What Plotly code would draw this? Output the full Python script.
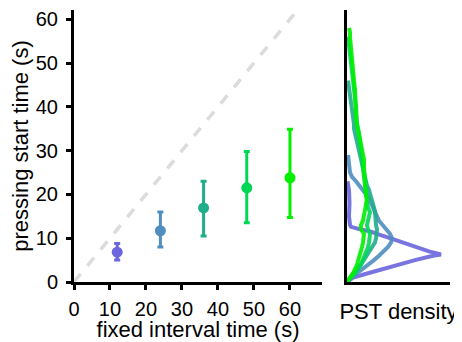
import plotly.graph_objects as go

# ---- data ----
intervals = [12, 24, 36, 48, 60]
pst_mean = [6.8, 11.7, 16.9, 21.5, 23.8]
pst_upper = [8.8, 16.0, 23.0, 29.8, 34.9]
pst_lower = [5.0, 8.0, 10.5, 13.5, 14.7]
colors = ["#6b66dd", "#4f8fbf", "#1fae8c", "#00d755", "#00f000"]

diag_x = [0, 62]
diag_y = [0, 62]

# PST density curves (time, density in arbitrary units)
dens_t_12 = [0, 1, 2, 3, 4, 5, 6, 6.3, 7, 8, 9, 10, 11, 11.5, 12, 12.6, 13, 15, 18, 21, 23]
dens_v_12 = [0, 6, 21, 36, 52, 68, 86, 94, 82, 68, 55, 43, 30, 24, 14, 4, 3, 2, 2.5, 2, 0.5]

dens_t_24 = [0, 1, 2, 3, 4, 5, 6, 7, 8, 9, 10, 11, 12, 13, 14, 15, 16, 17, 18, 19, 20, 21, 22, 23, 24, 25, 27, 29]
dens_v_24 = [0, 4, 10, 16, 22, 27, 32, 37, 41, 44, 45, 43, 39, 36, 32, 30, 28, 27, 25, 22, 19, 16, 13, 9, 5, 3, 2, 1]

dens_t_36 = [0, 1, 2, 3, 4, 5, 6, 7, 8, 9, 10, 11, 12, 13, 14, 15, 16, 17, 18, 19, 20, 21, 22, 23, 24, 25, 26, 27, 28,
             29, 30, 31, 32, 33, 34, 35, 36, 38, 40, 42, 44, 46]
dens_v_36 = [0, 3, 7, 10, 14, 17, 20, 23, 26, 28, 29, 30, 30, 29, 29, 28, 28, 27, 26, 25, 23, 22, 20, 19, 17, 16, 15,
             14, 13, 12, 11, 10, 9, 8, 8, 7, 7, 6, 5, 4, 2, 1]

dens_t_48 = [0, 2, 4, 6, 7, 8, 9, 10, 11, 12, 13, 14, 15, 16, 17, 18, 19, 20, 22, 24, 26, 28, 30, 32, 34, 36, 38, 40,
             42, 44, 46, 48, 50, 52, 54, 56]
dens_v_48 = [0, 8, 14, 18, 20, 21, 22, 22, 23, 21, 20, 21, 22, 23, 21, 20, 20, 19, 18, 17, 17, 16, 15, 14, 12, 10, 10,
             9, 8, 7, 6, 5, 4, 3, 2, 1]

dens_t_60 = [0, 2, 4, 6, 7, 8, 9, 10, 11, 12, 13, 14, 15, 16, 17, 18, 19, 20, 22, 24, 26, 28, 30, 32, 34, 36, 38, 40,
             42, 44, 46, 48, 50, 52, 54, 56, 57, 58]
dens_v_60 = [0, 6, 10, 13, 14, 15, 16, 17, 17, 14, 14, 16, 17, 18, 19, 20, 20, 19, 18, 17, 17, 17, 15, 14, 12, 10, 9,
             9, 9, 8, 7, 6, 5, 4, 4, 3, 3, 2]

density_t = [dens_t_12, dens_t_24, dens_t_36, dens_t_48, dens_t_60]
density_v = [dens_v_12, dens_v_24, dens_v_36, dens_v_48, dens_v_60]

x_ticks = [0, 10, 20, 30, 40, 50, 60]
y_ticks = [0, 10, 20, 30, 40, 50, 60]

FONT = "Liberation Sans, Arial, Helvetica, sans-serif"

# the page body has an 8px default margin, so the figure is sized to fit the window
W, H = 454, 334

fig = go.Figure()

fig.add_trace(go.Scatter(x=diag_x, y=diag_y, mode="lines",
                         line=dict(color="#dcdcdc", width=3.5, dash="dash"),
                         xaxis="x", yaxis="y", showlegend=False, hoverinfo="skip"))

for i in range(len(intervals)):
    fig.add_trace(go.Scatter(
        x=[intervals[i]], y=[pst_mean[i]], mode="markers",
        marker=dict(color=colors[i], size=11),
        error_y=dict(type="data", symmetric=False,
                     array=[pst_upper[i] - pst_mean[i]],
                     arrayminus=[pst_mean[i] - pst_lower[i]],
                     color=colors[i], thickness=3, width=3),
        xaxis="x", yaxis="y", showlegend=False))

for i in range(len(intervals)):
    fig.add_trace(go.Scatter(
        x=density_v[i], y=density_t[i], mode="lines",
        line=dict(color=colors[i], width=4),
        opacity=0.9, xaxis="x2", yaxis="y2", showlegend=False))

axis_common = dict(showgrid=False, zeroline=False, showline=True, linecolor="black",
                   linewidth=3, automargin=False,
                   tickfont=dict(family=FONT, size=20, color="black"))

fig.update_layout(
    width=W, height=H,
    margin=dict(l=0, r=0, t=0, b=0),
    paper_bgcolor="white", plot_bgcolor="white",
    font=dict(family=FONT, color="black"),
    xaxis=dict(domain=[66 / W, 314 / W], range=[0, 68.9],
               tickvals=x_ticks, ticks="outside", ticklen=5, tickwidth=3, tickcolor="black",
               ticklabelstandoff=2,
               title=dict(text="fixed interval time (s)", font=dict(family=FONT, size=22), standoff=2),
               anchor="y", **axis_common),
    yaxis=dict(domain=[60 / H, 332 / H], range=[0, 62.1],
               tickvals=y_ticks, ticks="outside", ticklen=5, tickwidth=3, tickcolor="black",
               ticklabelstandoff=4,
               title=dict(text="pressing start time (s)", font=dict(family=FONT, size=22), standoff=3),
               anchor="x", **axis_common),
    xaxis2=dict(domain=[339 / W, 442 / W], range=[0, 103], showticklabels=False, ticks="",
                title=dict(text="PST density", font=dict(family=FONT, size=22), standoff=20),
                anchor="y2", **axis_common),
    yaxis2=dict(domain=[60 / H, 332 / H], range=[0, 62.1], showticklabels=False, ticks="",
                anchor="x2", **axis_common),
)

fig.write_html("out.html")
